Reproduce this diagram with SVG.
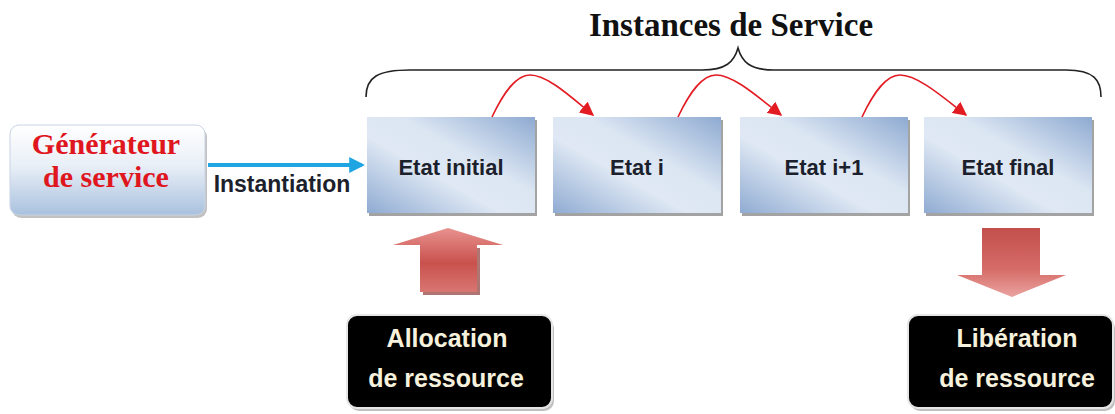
<svg xmlns="http://www.w3.org/2000/svg" width="1115" height="414" viewBox="0 0 1115 414">
  <defs>
    <linearGradient id="genFill" x1="0" y1="0" x2="0" y2="1">
      <stop offset="0" stop-color="#ffffff"/>
      <stop offset="0.45" stop-color="#e9eff7"/>
      <stop offset="1" stop-color="#a9c1de"/>
    </linearGradient>
    <linearGradient id="stateFill" x1="0" y1="1" x2="1" y2="0">
      <stop offset="0" stop-color="#8fabd2"/>
      <stop offset="0.4" stop-color="#dfe8f4"/>
      <stop offset="0.6" stop-color="#dce6f3"/>
      <stop offset="1" stop-color="#8eaad1"/>
    </linearGradient>
    <linearGradient id="upFill" x1="0" y1="0" x2="0" y2="1">
      <stop offset="0" stop-color="#e8928f"/>
      <stop offset="0.55" stop-color="#c9514d"/>
      <stop offset="1" stop-color="#d97672"/>
    </linearGradient>
    <linearGradient id="downFill" x1="0" y1="0" x2="0" y2="1">
      <stop offset="0" stop-color="#c24f4b"/>
      <stop offset="0.6" stop-color="#d66c68"/>
      <stop offset="1" stop-color="#eaa3a0"/>
    </linearGradient>
    <marker id="redHead" viewBox="0 0 10 10" refX="9" refY="5" markerWidth="14" markerHeight="14" markerUnits="userSpaceOnUse" orient="auto">
      <path d="M0,0 L10,5 L0,10 Z" fill="#e31b23"/>
    </marker>
    <marker id="blueHead" viewBox="0 0 10 10" refX="8" refY="5" markerWidth="16" markerHeight="16" markerUnits="userSpaceOnUse" orient="auto">
      <path d="M0,0 L10,5 L0,10 Z" fill="#1fa5e2"/>
    </marker>
  </defs>
  <style>
    .state { fill: url(#stateFill); }
    .shadow { fill: #a3a3a3; }
    .stateText { font-family: "Liberation Sans", Arial, sans-serif; font-weight: bold; font-size: 22px; fill: #1c1f2c; text-anchor: middle; }
    .blackBox { fill: #000000; stroke: #e6e6e6; stroke-width: 2; }
    .blackText { font-family: "Liberation Sans", Arial, sans-serif; font-weight: bold; font-size: 25px; fill: #f6f1dd; text-anchor: middle; }
    .redLink { fill: none; stroke: #e31b23; stroke-width: 1.6; marker-end: url(#redHead); }
    .genText { font-family: "Liberation Serif", "Times New Roman", serif; font-weight: bold; font-size: 30px; fill: #e0161f; text-anchor: middle; }
  </style>

  <rect width="1115" height="414" fill="#ffffff"/>

  <!-- title and brace -->
  <g id="title">
    <text x="731" y="36" font-family="Liberation Serif, 'Times New Roman', serif" font-weight="bold" font-size="33" fill="#111111" text-anchor="middle">Instances de Service</text>
    <path d="M366 97 C366 77 378 70 410 70 L702 70 C726 70 734 62 738 48 C742 62 750 70 774 70 L1066 70 C1094 70 1101 80 1101 97" fill="none" stroke="#222222" stroke-width="1.6"/>
  </g>

  <!-- service generator -->
  <g id="generator">
    <rect x="12" y="128" width="195" height="90" rx="9" fill="#9a9a9a" opacity="0.6"/>
    <rect x="10" y="125" width="195" height="90" rx="9" fill="url(#genFill)" stroke="#c9d4e3" stroke-width="1"/>
    <text class="genText" x="106" y="154">Générateur</text>
    <text class="genText" x="106" y="187">de service</text>
  </g>

  <!-- states -->
  <g id="state-initial">
    <rect class="shadow" x="369" y="120" width="168" height="96"/>
    <rect class="state" x="367" y="117" width="168" height="96"/>
    <text class="stateText" x="451" y="175">Etat initial</text>
  </g>
  <g id="state-i">
    <rect class="shadow" x="555" y="120" width="168" height="96"/>
    <rect class="state" x="553" y="117" width="168" height="96"/>
    <text class="stateText" x="637" y="175">Etat i</text>
  </g>
  <g id="state-i1">
    <rect class="shadow" x="742" y="120" width="168" height="96"/>
    <rect class="state" x="740" y="117" width="168" height="96"/>
    <text class="stateText" x="824" y="175">Etat i+1</text>
  </g>
  <g id="state-final">
    <rect class="shadow" x="926" y="120" width="168" height="96"/>
    <rect class="state" x="924" y="117" width="168" height="96"/>
    <text class="stateText" x="1008" y="175">Etat final</text>
  </g>

  <!-- resource boxes -->
  <g id="allocation">
    <rect x="349" y="318" width="205" height="93" rx="10" fill="#bfbfbf"/>
    <rect class="blackBox" x="347" y="315" width="205" height="93" rx="10"/>
    <text class="blackText" x="447" y="347">Allocation</text>
    <text class="blackText" x="446" y="387">de ressource</text>
  </g>
  <g id="liberation">
    <rect x="910" y="318" width="205" height="93" rx="10" fill="#bfbfbf"/>
    <rect class="blackBox" x="908" y="315" width="205" height="93" rx="10"/>
    <text class="blackText" x="1017" y="347">Libération</text>
    <text class="blackText" x="1017" y="387">de ressource</text>
  </g>

  <!-- connectors -->
  <g id="connectors">
    <line x1="208" y1="165" x2="362" y2="165" stroke="#1fa5e2" stroke-width="4" marker-end="url(#blueHead)"/>
    <text x="282" y="192" font-family="Liberation Sans, Arial, sans-serif" font-weight="bold" font-size="23" fill="#1c1f2c" text-anchor="middle">Instantiation</text>

    <path class="redLink" d="M492 117 C504 92 516 75 530 75 C548 75 572 98 593 115"/>
    <path class="redLink" d="M678 117 C690 92 702 75 716 75 C734 75 759 98 781 115"/>
    <path class="redLink" d="M862 117 C874 92 886 75 900 75 C918 75 944 98 966 115"/>

    <!-- allocation block arrow (up) -->
    <path d="M423 248 L423 295 L480 295 L480 248 Z" fill="#8c3a37" opacity="0.7"/>
    <path d="M448 228 L503 245 L477 245 L477 292 L420 292 L420 245 L393 245 Z" fill="url(#upFill)"/>
    <!-- release block arrow (down) -->
    <path d="M982 228 L1040 228 L1040 275 L1066 275 L1012 297 L957 275 L982 275 Z" fill="url(#downFill)"/>
  </g>
</svg>
